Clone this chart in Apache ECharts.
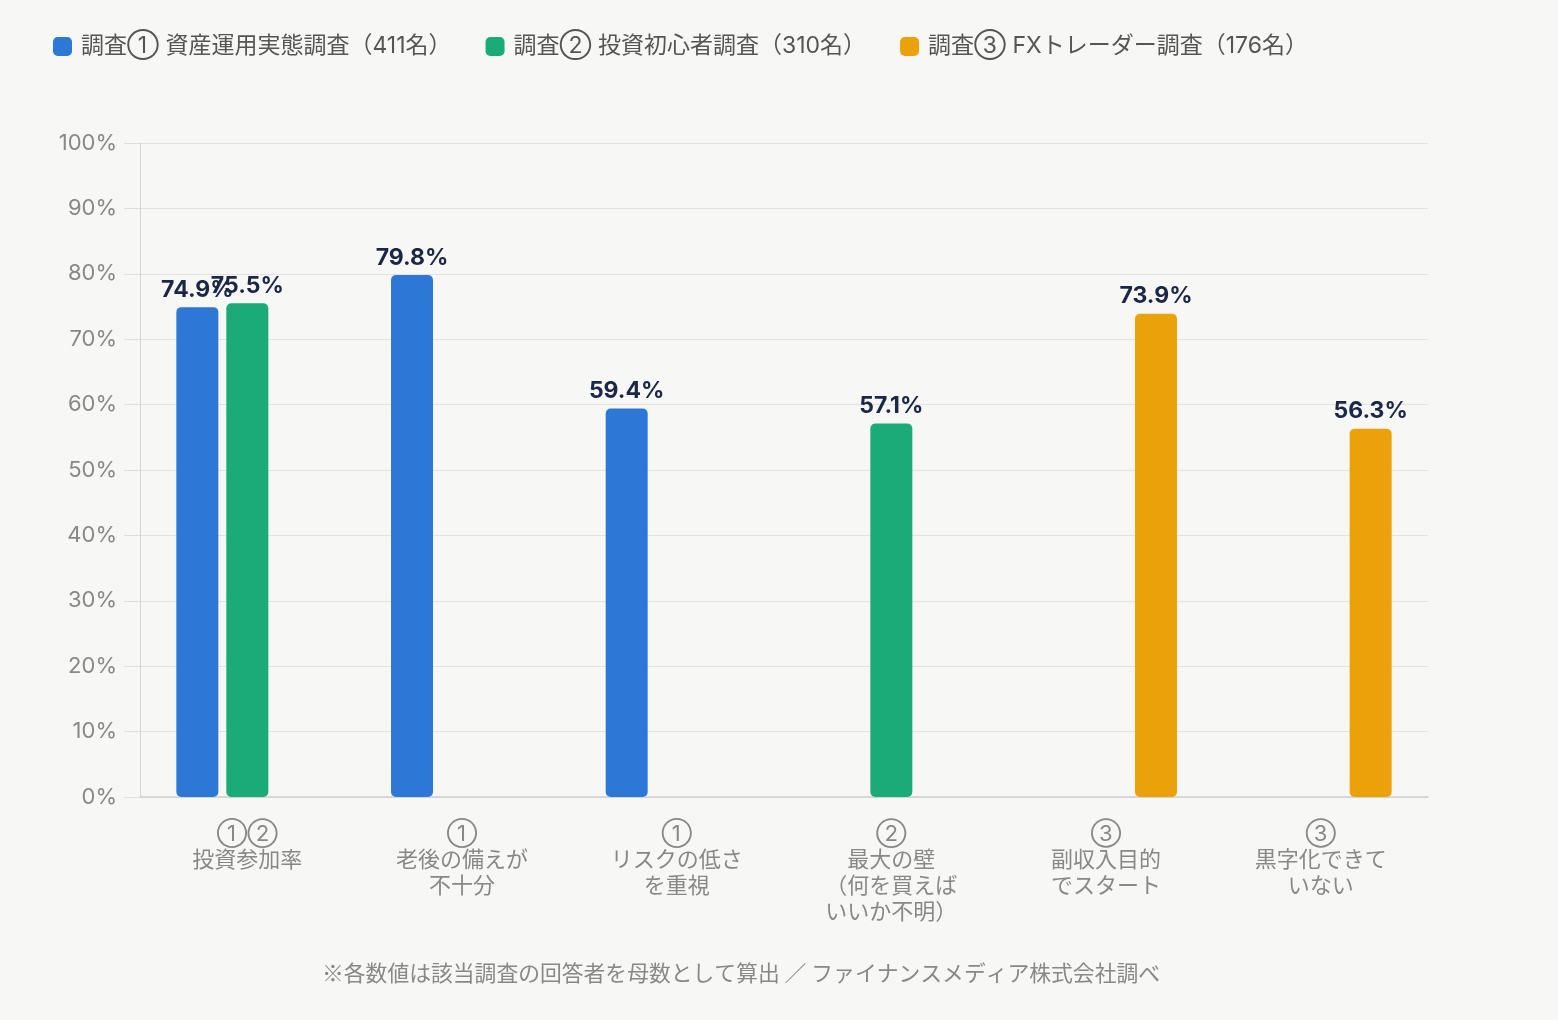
<!DOCTYPE html>
<html><head><meta charset="utf-8">
<script src="https://cdn.jsdelivr.net/npm/echarts@6/dist/echarts.min.js"></script>
<style>html,body{margin:0;padding:0;background:#f7f7f5;}#c{width:1558px;height:1020px;}</style>
</head><body><div id="c"></div>
<script>
const categories = ['①②\n投資参加率', '①\n老後の備えが\n不十分', '①\nリスクの低さ\nを重視', '②\n最大の壁\n（何を買えば\nいいか不明）', '③\n副収入目的\nでスタート', '③\n黒字化できて\nいない'];
const seriesNames = ['調査① 資産運用実態調査（411名）', '調査② 投資初心者調査（310名）', '調査③ FXトレーダー調査（176名）'];
const survey1 = [74.9, 79.8, 59.4, null, null, null];
const survey2 = [75.5, null, null, 57.1, null, null];
const survey3 = [null, null, null, null, 73.9, 56.3];
const colors = ['#2d78d6', '#1bab78', '#eba20a'];
const footnote = '※各数値は該当調査の回答者を母数として算出 ／ ファイナンスメディア株式会社調べ';

const FONT = 'Inter, "Noto Sans CJK JP", sans-serif';
const JFONT = '"Noto Sans CJK JP", sans-serif';
const chart = echarts.init(document.getElementById('c'));
const mk = (name, data, color) => ({
  name, type: 'bar', data, barWidth: 42, barGap: '19%',
  itemStyle: { color, borderRadius: 5 },
  label: { show: true, position: 'top', distance: 6, formatter: p => p.value == null ? '' : p.value.toFixed(1) + '%',
    color: '#1b2747', fontSize: 23, fontWeight: 'bold', fontFamily: FONT }
});
chart.setOption({
  backgroundColor: '#f7f7f5',
  animation: false,
  color: colors,
  legend: {
    left: 53, top: 35, padding: 0, itemWidth: 19, itemHeight: 19, itemGap: 34,
    icon: 'roundRect',
    textStyle: { fontSize: 23, color: '#555', fontFamily: FONT, padding: [0, 0, 0, 4] },
    data: seriesNames
  },
  graphic: [{ type: 'text', left: 322, top: 962, style: { text: footnote, fontSize: 21.8, fill: '#888', fontFamily: JFONT } }],
  grid: { left: 140, right: 130, top: 143, bottom: 223 },
  xAxis: {
    type: 'category', data: categories,
    axisLine: { lineStyle: { color: '#cfcfcf', width: 1.5 } },
    axisTick: { show: false },
    axisLabel: { interval: 0, color: '#888', fontSize: 22, lineHeight: 26, margin: 24, fontFamily: FONT }
  },
  yAxis: {
    type: 'value', min: 0, max: 100, interval: 10,
    axisLine: { show: true, lineStyle: { color: '#d5d5d5' } },
    axisTick: { show: true, length: 16, lineStyle: { color: '#dedede' } },
    splitLine: { lineStyle: { color: '#e2e2e2' } },
    axisLabel: { formatter: '{value}%', color: '#888', fontSize: 22, margin: 23, fontFamily: FONT }
  },
  series: [mk(seriesNames[0], survey1, colors[0]), mk(seriesNames[1], survey2, colors[1]), mk(seriesNames[2], survey3, colors[2])]
});
</script></body></html>
